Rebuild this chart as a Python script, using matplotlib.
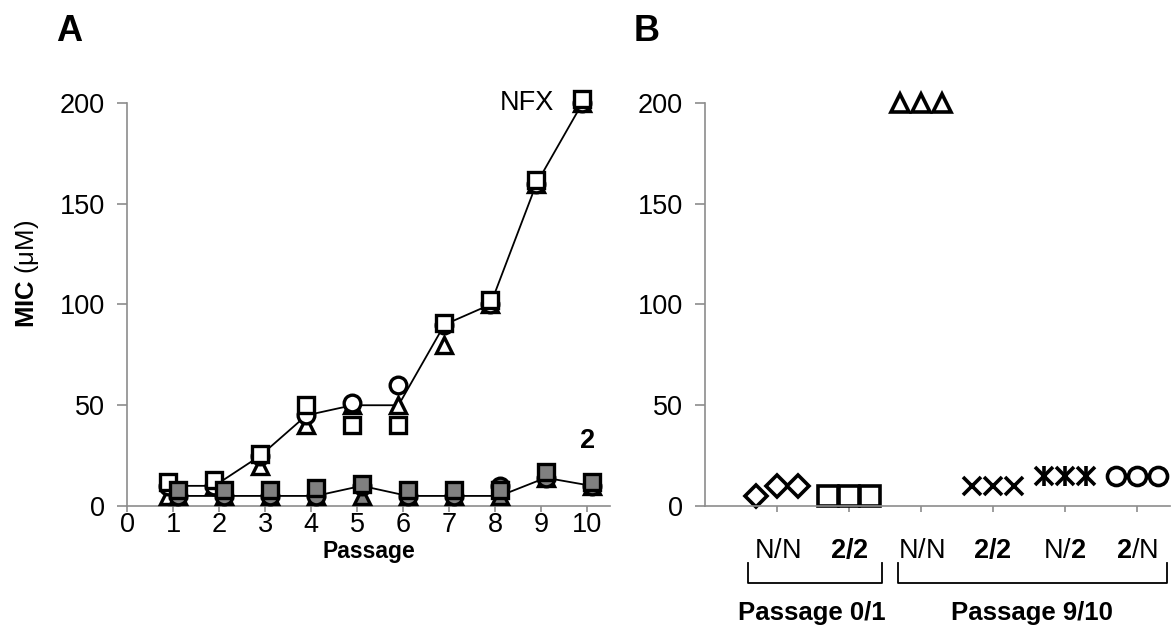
import numpy as np
import matplotlib
matplotlib.use('Agg')
import matplotlib.pyplot as plt
import matplotlib.transforms as mtransforms

plt.rcParams['font.family'] = ['Liberation Sans', 'DejaVu Sans']
plt.rcParams['mathtext.fontset'] = 'custom'
plt.rcParams['mathtext.rm'] = 'Liberation Sans'
plt.rcParams['mathtext.bf'] = 'Liberation Sans:bold'

# Panel A data: MIC (uM) per passage, three replicate lineages each
passages = np.arange(1, 11)
nfx_sq = [12, 13, 26, 50, 40, 40, 91, 102, 162, 202]
nfx_ci = [10, 10, 25, 45, 51, 60, 90, 100, 160, 200]
nfx_tr = [5, 10, 20, 40, 50, 50, 80, 100, 160, 200]
nfx_line = [10, 10, 25, 45, 50, 50, 90, 100, 160, 200]

c2_sq = [8, 8, 8, 9, 11, 8, 8, 8, 17, 12]
c2_ci = [5, 5, 5, 5, 10, 5, 5, 10, 14, 10]
c2_tr = [5, 5, 5, 5, 5, 5, 5, 5, 14, 10]
c2_line = [5, 5, 5, 5, 10, 5, 5, 5, 14, 10]

# Panel B data
b_labels = [r'$\mathrm{N/N}$', r'$\mathbf{2/2}$', r'$\mathrm{N/N}$',
            r'$\mathbf{2/2}$', r'$\mathrm{N/}\mathbf{2}$', r'$\mathbf{2}\mathrm{/N}$']
b_values = [[5, 10, 10], [5, 5, 5], [200, 200, 200],
            [10, 10, 10], [15, 15, 15], [15, 15, 15]]
b_markers = ['D', 's', '^', 'x', 'ast', 'o']
groups = ['Passage 0/1', 'Passage 9/10']

fig = plt.figure(figsize=(11.71, 6.26), dpi=100)
axA = fig.add_axes([0.1085, 0.1917, 0.4125, 0.6438])
axB = fig.add_axes([0.602, 0.1917, 0.397, 0.6438])

grey = '#8c8c8c'
fill = '#808080'
fs = 19.5

for ax in (axA, axB):
    for s in ('top', 'right'):
        ax.spines[s].set_visible(False)
    for s in ('left', 'bottom'):
        ax.spines[s].set_color(grey)
        ax.spines[s].set_linewidth(1.2)
    ax.set_ylim(0, 200)
    ax.set_yticks([0, 50, 100, 150, 200])
    ax.tick_params(axis='both', direction='out', color=grey, width=1.2,
                   labelsize=fs)
    ax.tick_params(axis='y', length=7, pad=9)

# ---- panel A
xo = passages - 0.1
x2 = passages + 0.1
mk = dict(markeredgecolor='black', markeredgewidth=2.4, linestyle='none')
axA.plot(xo, nfx_line, color='black', lw=1.3, zorder=2)
axA.plot(x2, c2_line, color='black', lw=1.3, zorder=2)
axA.plot(xo, nfx_tr, marker='^', ms=12, markerfacecolor='white', zorder=3, **mk)
axA.plot(xo, nfx_ci, marker='o', ms=12, markerfacecolor='white', zorder=4, **mk)
axA.plot(xo, nfx_sq, marker='s', ms=12, markerfacecolor='white', zorder=5, **mk)
axA.plot(x2, c2_tr, marker='^', ms=12, markerfacecolor=fill, zorder=6, **mk)
axA.plot(x2, c2_ci, marker='o', ms=12, markerfacecolor=fill, zorder=7, **mk)
axA.plot(x2, c2_sq, marker='s', ms=12, markerfacecolor=fill, zorder=8, **mk)
for line in axA.lines:
    line.set_clip_on(False)

axA.set_xlim(0, 10.5)
axA.set_xticks(range(0, 11))
axA.tick_params(axis='x', length=4, pad=0.5)
axA.set_xlabel('Passage', fontsize=16.5, fontweight='bold', labelpad=1)
axA.text(8.7, 200, 'NFX', fontsize=fs, ha='center', va='center')
axA.text(10.02, 32.5, '2', fontsize=fs, fontweight='bold', ha='center', va='center')

fig.text(0.0231, 0.562, r'$\mathbf{MIC}$ (μM)', rotation=90, fontsize=18.5,
         ha='center', va='center')
fig.text(0.059, 0.949, 'A', fontsize=26, fontweight='bold', ha='center', va='center')
fig.text(0.5525, 0.949, 'B', fontsize=26, fontweight='bold', ha='center', va='center')

# ---- panel B
offsets = [-0.29, 0.0, 0.29]
cats = np.arange(1, len(b_labels) + 1)
for c, vals, m in zip(cats, b_values, b_markers):
    xs = c + np.array(offsets)
    if m == 'ast':
        axB.plot(xs, vals, marker='x', ms=13, color='black', mew=2.6,
                 linestyle='none', clip_on=False)
        axB.plot(xs, vals, marker='|', ms=15, color='black', mew=2.6,
                 linestyle='none', clip_on=False)
    elif m == 'x':
        axB.plot(xs, vals, marker='x', ms=13, color='black', mew=2.6,
                 linestyle='none', clip_on=False)
    else:
        size = {'D': 11, 's': 14, '^': 12.5, 'o': 13}[m]
        axB.plot(xs, vals, marker=m, ms=size, markerfacecolor='white',
                 markeredgecolor='black', mew=2.6, linestyle='none',
                 clip_on=False)

axB.set_xlim(0, 6.46)
axB.set_xticks(cats)
axB.set_xticklabels(b_labels)
axB.tick_params(axis='x', length=4, pad=19)

# brackets under the category labels
trans = mtransforms.blended_transform_factory(axB.transData, axB.transAxes)
brackets = [(0.6, 2.46), (2.68, 6.42)]
for (x0, x1), name in zip(brackets, groups):
    axB.plot([x0, x0, x1, x1], [-0.141, -0.19, -0.19, -0.141], color='black',
             lw=1.3, transform=trans, clip_on=False)
    axB.text((x0 + x1) / 2 - (0.05 if x1 < 3 else 0.0), -0.265, name,
             fontsize=18.5, fontweight='bold', ha='center', va='center',
             transform=trans)

fig.savefig('out.png', dpi=100)
